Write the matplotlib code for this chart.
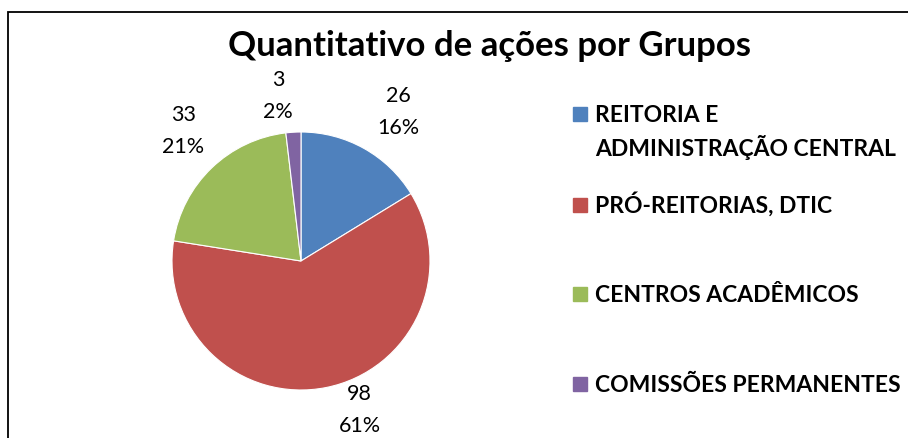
import matplotlib
matplotlib.use("Agg")
import matplotlib.pyplot as plt
from matplotlib.patches import Rectangle
import numpy as np

plt.rcParams['font.family'] = ['Lato', 'DejaVu Sans']

categories = ["REITORIA E\nADMINISTRAÇÃO CENTRAL", "PRÓ-REITORIAS, DTIC",
              "CENTROS ACADÊMICOS", "COMISSÕES PERMANENTES"]
values = [26, 98, 33, 3]
percent_labels = ["16%", "61%", "21%", "2%"]
title = "Quantitativo de ações por Grupos"

colors = ["#4F81BD", "#C0504D", "#9BBB59", "#8064A2"]
# label placement (radial distance, angle shift from wedge middle in degrees)
label_dist = [1.385, 1.235, 1.365, 1.30]
label_shift = [-3.7, 10.4, -1.9, 4.5]

W, H = 908, 439
fig = plt.figure(figsize=(W / 100, H / 100), dpi=100)

# outer border (only left and top edges fall inside the image)
fig.patches.append(Rectangle((7.5 / W, -0.05), 1.0, 1.05 - 12.5 / H,
                             transform=fig.transFigure, fill=False,
                             edgecolor="black", linewidth=1.3, clip_on=False))

cx, cy, r = 301, 262, 129
ax = fig.add_axes([(cx - r) / W, (H - cy - r) / H, 2 * r / W, 2 * r / H])
wedges, _ = ax.pie(values, colors=colors, startangle=90, counterclock=False,
                   radius=1, wedgeprops=dict(linewidth=0.8, edgecolor="white"))
ax.set_xlim(-1, 1)
ax.set_ylim(-1, 1)
ax.set_aspect("equal")
ax.axis("off")

for w, v, p, d, s in zip(wedges, values, percent_labels, label_dist, label_shift):
    ang = np.deg2rad((w.theta1 + w.theta2) / 2 + s)
    ax.text(d * np.cos(ang), d * np.sin(ang), f"{v}\n{p}", ha="center",
            va="center", fontsize=15.5, linespacing=1.75, clip_on=False)

fig.text(490 / W, 1 - 56 / H, title, ha="center", va="baseline",
         fontsize=25, fontweight="bold")

# legend
leg_baseline = [122, 213, 302, 392]
line_gap = 34
for c, lab, yb in zip(colors, categories, leg_baseline):
    fig.patches.append(Rectangle((573 / W, 1 - yb / H), 14 / W, 14 / H,
                                 transform=fig.transFigure, color=c))
    for i, line in enumerate(lab.split("\n")):
        fig.text(595 / W, 1 - (yb + i * line_gap) / H, line, ha="left",
                 va="baseline", fontsize=16.5, fontweight="bold")

fig.savefig("out.png", dpi=100)
